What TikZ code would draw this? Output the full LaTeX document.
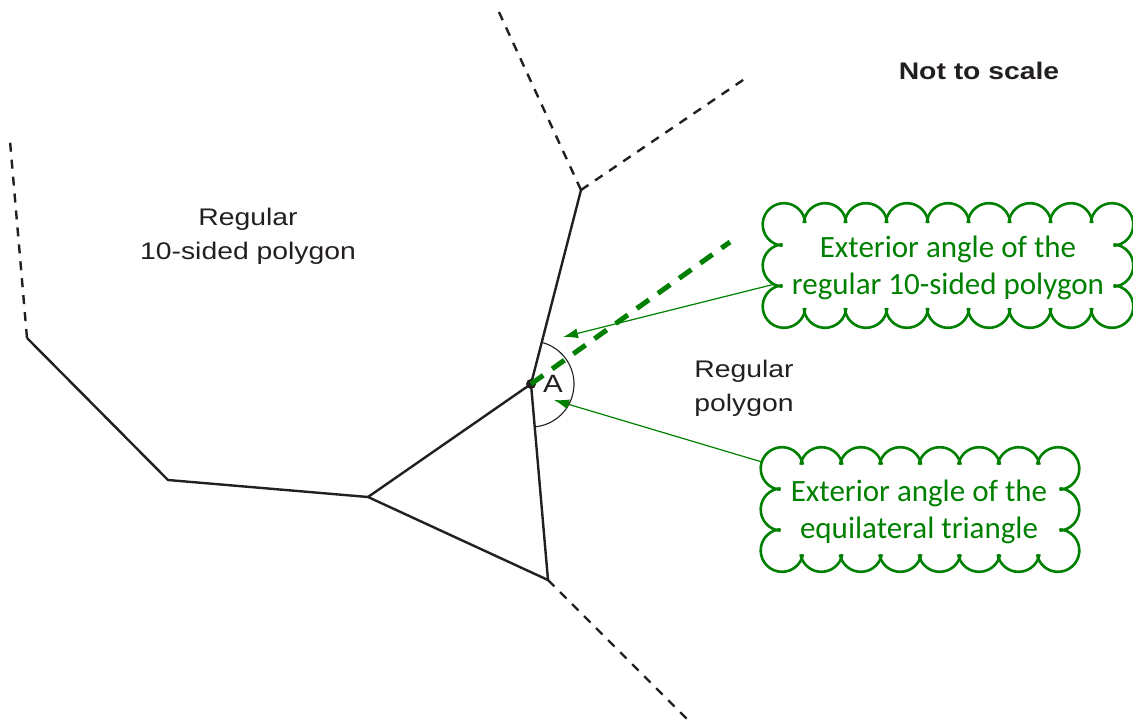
\documentclass[tikz,border=0pt]{standalone}
\usepackage{fontspec}
\setmainfont{Liberation Sans}[FakeStretch=1.18]
\newfontfamily\cloudfont{Carlito}
\usetikzlibrary{arrows.meta}
\definecolor{dgreen}{RGB}{0,128,0}
\definecolor{ink}{RGB}{35,31,32}
\tikzset{
  edge/.style={ink, line width=2.4pt, line join=miter},
  ext/.style={ink, line width=2.4pt, dash pattern=on 9pt off 8pt},
  puff/.style={dgreen, line width=2.6pt},
  gdash/.style={dgreen, line width=5pt, dash pattern=on 15pt off 11pt},
  pointer/.style={dgreen, line width=1.2pt, -{Latex[length=15pt,width=10pt]}},
  anglearc/.style={ink, line width=1.1pt},
  label/.style={inner sep=0pt, align=center, text=ink, font=\fontsize{24}{34}\selectfont},
  cloudtext/.style={inner sep=0pt, align=center, text=dgreen, font=\cloudfont\fontsize{31}{37}\selectfont},
}
\newcommand{\puffcloud}[6]{%
  \pgfmathsetmacro\pce{12}%
  \pgfmathsetmacro\pcsx{(#3-(#1))/#5}%
  \pgfmathsetmacro\pcsy{(#2-(#4))/#6}%
  \pgfmathsetmacro\pcr{max(\pcsx,\pcsy)*0.52}%
  \pgfmathsetmacro\pbx{acos(\pcsx/(2*\pcr))}%
  \pgfmathsetmacro\pby{acos(\pcsy/(2*\pcr))}%
  \pgfmathtruncatemacro\pnx{#5-1}%
  \pgfmathtruncatemacro\pny{#6-1}%
  \foreach \i in {1,...,\pnx}{%
    \draw[puff] ({#1+\i*\pcsx},#2) ++({180-\pbx+\pce}:\pcr) arc[start angle={180-\pbx+\pce}, end angle={\pbx-\pce}, radius=\pcr];
    \draw[puff] ({#1+\i*\pcsx},#4) ++({-\pbx+\pce}:\pcr) arc[start angle={-\pbx+\pce}, end angle={-180+\pbx-\pce}, radius=\pcr];
  }
  \foreach \j in {1,...,\pny}{%
    \draw[puff] (#1,{#4+\j*\pcsy}) ++({270-\pby+\pce}:\pcr) arc[start angle={270-\pby+\pce}, end angle={90+\pby-\pce}, radius=\pcr];
    \draw[puff] (#3,{#4+\j*\pcsy}) ++({90-\pby+\pce}:\pcr) arc[start angle={90-\pby+\pce}, end angle={-90+\pby-\pce}, radius=\pcr];
  }
  \draw[puff] (#1,#2) ++({270-\pby+\pce}:\pcr) arc[start angle={270-\pby+\pce}, end angle={\pbx-\pce}, radius=\pcr];
  \draw[puff] (#3,#2) ++({180-\pbx+\pce}:\pcr) arc[start angle={180-\pbx+\pce}, end angle={-90+\pby-\pce}, radius=\pcr];
  \draw[puff] (#3,#4) ++({90-\pby+\pce}:\pcr) arc[start angle={90-\pby+\pce}, end angle={-180+\pbx-\pce}, radius=\pcr];
  \draw[puff] (#1,#4) ++({360-\pbx+\pce}:\pcr) arc[start angle={360-\pbx+\pce}, end angle={90+\pby-\pce}, radius=\pcr];
}
\begin{document}
\begin{tikzpicture}[x=1pt,y=1pt]
\useasboundingbox (0,0) rectangle (1133,-726);
% vertices
\coordinate (A) at (531,-384);
\coordinate (P1) at (581,-190);
\coordinate (P1a) at (498,-10);
\coordinate (P1b) at (746,-78);
\coordinate (B) at (368,-497);
\coordinate (Q1) at (168,-480);
\coordinate (Q2) at (27,-338);
\coordinate (Q3) at (10,-141);
\coordinate (C) at (548,-580);
\coordinate (C1) at (688,-720);
\coordinate (G) at (730,-242);
% polygons
\draw[edge] (Q2) -- (Q1) -- (B) -- (C) -- (A) -- (P1);
\draw[edge] (B) -- (A);
\draw[ext] (Q2) -- (Q3);
\draw[ext] (P1) -- (P1a);
\draw[ext] (P1) -- (P1b);
\draw[ext] (C) -- (C1);
% angle arc
\draw[anglearc] (A) ++(75.5:43) arc[start angle=75.5, end angle=-85, radius=43];
% extension
\fill[ink] (A) circle (5);
\draw[gdash] (A) -- (G);
% labels
\node[label] (ten) at (248,-236) {Regular\\10-sided polygon};
\node[label] (reg) at (744,-388) {Regular\\polygon};
\node[label, font=\bfseries\fontsize{24}{30}\selectfont] (nts) at (979,-71) {Not to scale};
\node[label, font=\fontsize{25}{30}\selectfont] (Alab) at (553,-384) {A};
% clouds
\puffcloud{784}{-224.5}{1112}{-306.5}{8}{2}
\node[cloudtext] (c1) at (948,-268) {Exterior angle of the\\regular 10-sided polygon};
\puffcloud{782}{-468.5}{1058}{-550.5}{7}{2}
\node[cloudtext] (c2) at (919,-512) {Exterior angle of the\\equilateral triangle};
% pointers
\coordinate (t1) at (775,-284);
\coordinate (h1) at (563,-337);
\coordinate (t2) at (762,-462);
\coordinate (h2) at (554,-400);
\draw[pointer] (t1) -- (h1);
\draw[pointer] (t2) -- (h2);
\end{tikzpicture}
\end{document}
